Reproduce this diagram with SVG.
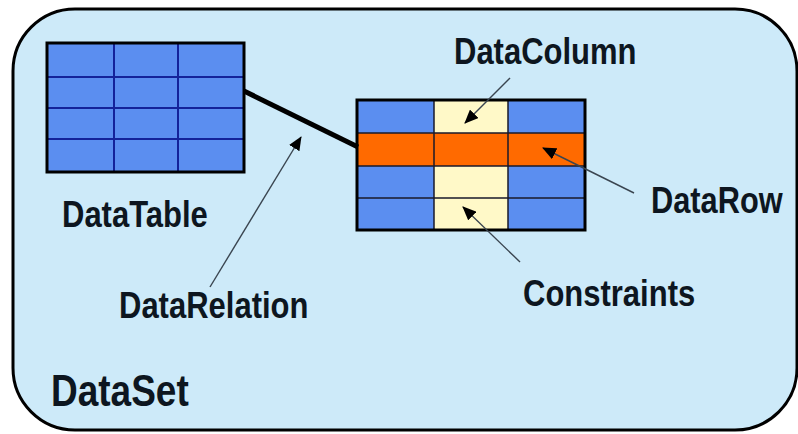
<svg xmlns="http://www.w3.org/2000/svg" width="798" height="434" viewBox="0 0 798 434">
  <defs>
    <style>
      .lbl { font-family: "Liberation Sans", Arial, sans-serif; font-weight: bold; fill: #0d1620; font-size: 31px; }
      .blue { fill: #5b8ef0; }
      .cream { fill: #fff9c8; }
      .orange { fill: #ff6a00; }
      .frame { fill: none; stroke: #000; stroke-width: 3; }
      .grid1 { stroke: #14229a; stroke-width: 2; fill: none; }
      .grid2 { stroke: #1a1a2a; stroke-width: 1.5; fill: none; }
      .ptr { stroke: #3a4550; stroke-width: 1.4; fill: none; marker-end: url(#ah); }
    </style>
    <marker id="ah" viewBox="0 0 14 12" refX="13" refY="6" markerWidth="14" markerHeight="12" markerUnits="userSpaceOnUse" orient="auto">
      <path d="M0,0 L14,6 L0,12 Z" fill="#000"/>
    </marker>
  </defs>

  <rect x="0" y="0" width="798" height="434" fill="#ffffff"/>

  <g id="dataset">
    <rect x="13" y="9" width="784" height="421" rx="62" ry="62" fill="#cdeaf9" stroke="#000" stroke-width="3"/>
    <text class="lbl" transform="translate(51,406) scale(1,1.2)" x="0" y="0" style="font-size:37px">DataSet</text>
  </g>

  <g id="datatable">
    <rect class="blue" x="47" y="43" width="197" height="129"/>
    <path class="grid1" d="M114,43 V172 M178,43 V172 M47,77 H244 M47,108 H244 M47,139 H244"/>
    <rect class="frame" x="47" y="43" width="197" height="129"/>
    <text class="lbl" transform="translate(62,227) scale(1,1.2)" x="0" y="0">DataTable</text>
  </g>

  <g id="table2">
    <rect class="blue" x="357" y="100" width="228" height="130"/>
    <rect class="cream" x="434" y="100" width="74" height="130"/>
    <rect class="orange" x="357" y="133" width="228" height="33"/>
    <path class="grid2" d="M434,100 V230 M508,100 V230 M357,133 H585 M357,166 H585 M357,198 H585"/>
    <rect class="frame" x="357" y="100" width="228" height="130"/>
  </g>

  <g id="datacolumn">
    <text class="lbl" transform="translate(454,64) scale(1,1.2)" x="0" y="0">DataColumn</text>
  </g>
  <g id="datarow">
    <text class="lbl" transform="translate(651,213) scale(1,1.2)" x="0" y="0" style="font-size:30.8px">DataRow</text>
  </g>
  <g id="constraints">
    <text class="lbl" transform="translate(523,306) scale(1,1.2)" x="0" y="0">Constraints</text>
  </g>
  <g id="datarelation">
    <text class="lbl" transform="translate(119,318) scale(1,1.2)" x="0" y="0">DataRelation</text>
  </g>

  <g id="connectors">
    <line x1="244" y1="91" x2="358" y2="147" stroke="#000" stroke-width="5"/>
    <line class="ptr" x1="510" y1="78" x2="465" y2="123"/>
    <line class="ptr" x1="634" y1="193" x2="543" y2="148"/>
    <line class="ptr" x1="520" y1="262" x2="463" y2="207"/>
    <line class="ptr" x1="210" y1="287" x2="301" y2="137"/>
  </g>
</svg>
